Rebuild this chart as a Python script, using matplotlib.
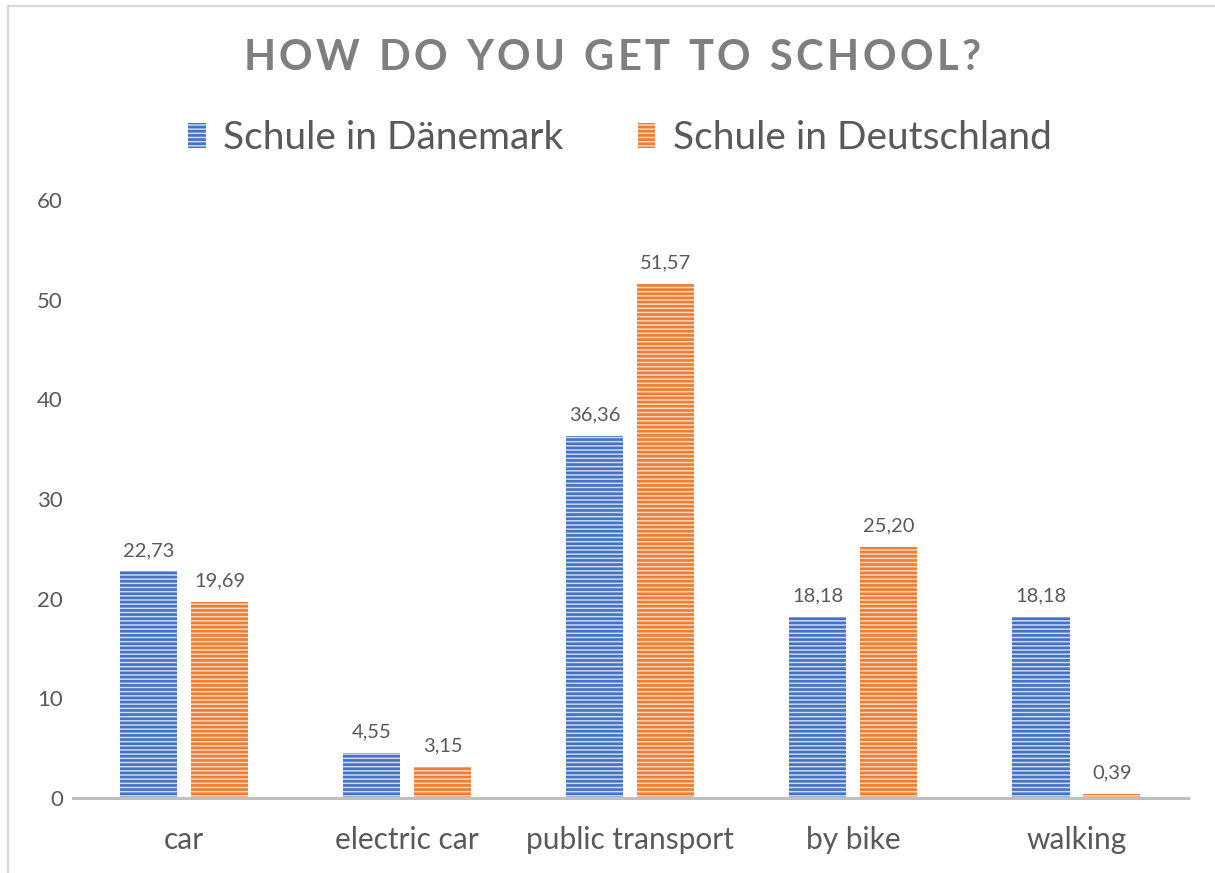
import matplotlib
matplotlib.use("Agg")
import matplotlib.pyplot as plt
import numpy as np
from matplotlib.lines import Line2D

categories = ["car", "electric car", "public transport", "by bike", "walking"]
series_names = ["Schule in Dänemark", "Schule in Deutschland"]
daenemark = [22.73, 4.55, 36.36, 18.18, 18.18]
deutschland = [19.69, 3.15, 51.57, 25.20, 0.39]
y_ticks = [0, 10, 20, 30, 40, 50, 60]
title = "HOW DO YOU GET TO SCHOOL?"

FONT = "Lato"
TXT = "#595959"
plt.rcParams["font.family"] = [FONT, "DejaVu Sans"]
plt.rcParams["hatch.linewidth"] = 1.9

fig = plt.figure(figsize=(12.15, 8.73), dpi=100)
W, H = 1215, 873
ax = fig.add_axes([72.5 / W, 1 - 798 / H, (1188 - 72.5) / W, (798 - 200) / H])

x = np.arange(len(categories))
bw = 0.256
off = 0.159
b1 = ax.bar(x - off, daenemark, bw, facecolor="#cdd9f0", edgecolor="#4472C4",
            hatch="----", linewidth=0, label=series_names[0])
b2 = ax.bar(x + off, deutschland, bw, facecolor="#fbd7bf", edgecolor="#ED7D31",
            hatch="----", linewidth=0, label=series_names[1])

for bars, vals in ((b1, daenemark), (b2, deutschland)):
    for r, v in zip(bars, vals):
        ax.annotate(f"{v:.2f}".replace(".", ","), (r.get_x() + r.get_width() / 2, v),
                    xytext=(0, 9), textcoords="offset points", ha="center", va="bottom",
                    fontsize=14.5, color=TXT)

ax.set_xlim(-0.5, len(categories) - 0.5)
ax.set_ylim(0, 60)
ax.set_yticks(y_ticks)
ax.set_yticklabels([str(t) for t in y_ticks], fontsize=16, color=TXT)
ax.set_xticks(x)
ax.set_xticklabels(categories, fontsize=21.5, color=TXT)
ax.tick_params(axis="both", length=0)
ax.tick_params(axis="y", pad=7)
ax.tick_params(axis="x", pad=20)
for s in ("top", "right", "left"):
    ax.spines[s].set_visible(False)
ax.spines["bottom"].set_color("#bfbfbf")
ax.spines["bottom"].set_linewidth(2.2)

leg = fig.legend(handles=[b1, b2], labels=series_names, loc="center",
                 bbox_to_anchor=(620 / W, 1 - 138 / H), ncol=2, frameon=False,
                 fontsize=28, labelcolor=TXT, handlelength=0.45, handleheight=0.6,
                 handletextpad=0.45, columnspacing=1.9)

# figure border
fig.add_artist(Line2D([8 / W, 8 / W], [0, 1 - 6 / H], color="#d9d9d9", lw=1.6, transform=fig.transFigure))
fig.add_artist(Line2D([8 / W, 1], [1 - 6 / H, 1 - 6 / H], color="#d9d9d9", lw=1.6, transform=fig.transFigure))

# letter-spaced title
renderer = fig.canvas.get_renderer()
spacing = 3.5
widths = []
for ch in title:
    t = fig.text(0, 0, ch if ch != " " else "n", fontsize=30, fontweight="bold", color="#7f7f7f")
    bb = t.get_window_extent(renderer)
    w = bb.width if ch != " " else bb.width * 0.5
    widths.append(w)
    t.remove()
total = sum(widths) + spacing * (len(title) - 1)
xc = 612 - total / 2
for ch, w in zip(title, widths):
    if ch != " ":
        fig.text(xc / W, 1 - 58 / H, ch, fontsize=30, fontweight="bold", color="#7f7f7f",
                 ha="left", va="center")
    xc += w + spacing

fig.savefig("out.png", dpi=100)
